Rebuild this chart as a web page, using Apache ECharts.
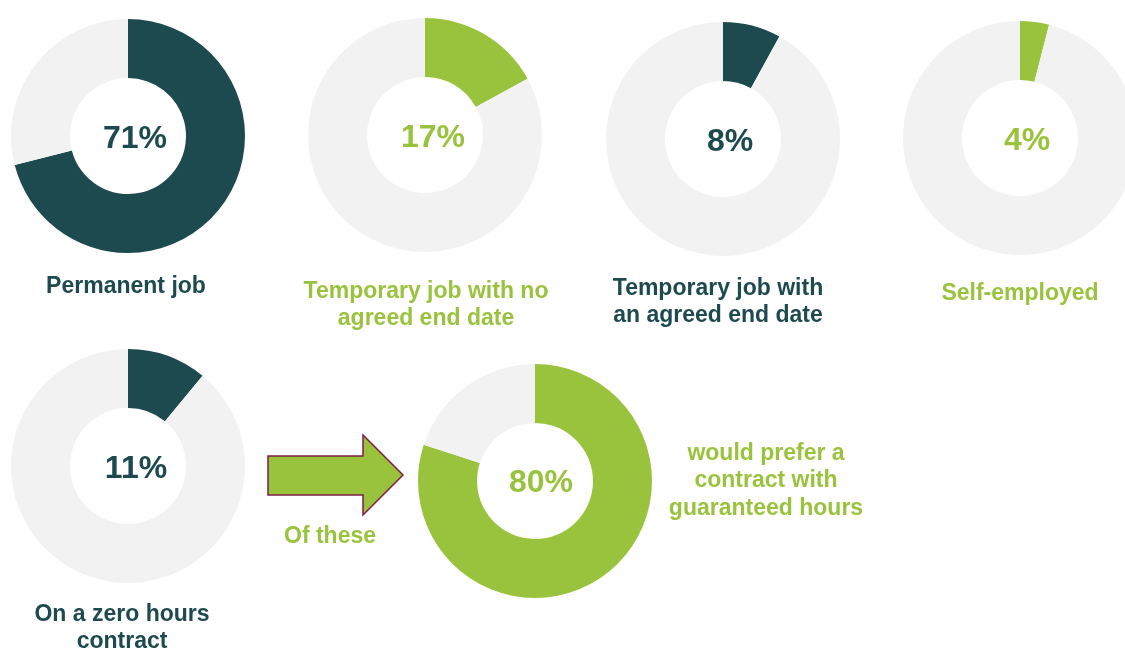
<!DOCTYPE html>
<html>
<head>
<meta charset="utf-8">
<script src="https://cdn.jsdelivr.net/npm/echarts@6/dist/echarts.min.js"></script>
<style>
html,body{margin:0;padding:0;background:#fff;}
#chart{width:1125px;height:650px;}
</style>
</head>
<body>
<div id="chart"></div>
<script>
// Data
const categories = [
  "Permanent job",
  "Temporary job with no\nagreed end date",
  "Temporary job with\nan agreed end date",
  "Self-employed",
  "On a zero hours\ncontract",
  "would prefer a\ncontract with\nguaranteed hours"
];
const percentValues = [71, 17, 8, 4, 11, 80];
const arrowCaption = "Of these";

// Layout / style (not data)
const DARK = '#1D4A4F';
const GREEN = '#9AC33D';
const GREY = '#F2F2F2';
const sliceColors = [DARK, GREEN, DARK, GREEN, DARK, GREEN];
const centers = [[128,136],[425,135],[723,139],[1020,138],[128,466],[535,481]];
const valueLabelPos = [[135,139],[433,138],[730,142],[1027,141],[136,469],[541,483]];
const captionPos = [[126,287],[426,305],[718,302],[1020,294],[122,628],[766,481]];

const chart = echarts.init(document.getElementById('chart'), null, {renderer:'canvas'});

const series = percentValues.map((v, i) => ({
  type: 'pie',
  center: centers[i],
  radius: [58, 117],
  startAngle: 90,
  clockwise: true,
  silent: true,
  animation: false,
  label: {show: false},
  labelLine: {show: false},
  emphasis: {disabled: true},
  data: [
    {value: v, itemStyle: {color: sliceColors[i]}},
    {value: 100 - v, itemStyle: {color: GREY}}
  ]
}));

const titles = [];
percentValues.forEach((v, i) => {
  titles.push({
    text: v + '%',
    left: valueLabelPos[i][0],
    top: valueLabelPos[i][1],
    textAlign: 'center',
    textVerticalAlign: 'middle',
    padding: 0,
    textStyle: {
      fontFamily: 'Liberation Sans, Arial, sans-serif',
      fontWeight: 'bold',
      fontSize: 32,
      color: sliceColors[i]
    }
  });
  titles.push({
    text: categories[i],
    left: captionPos[i][0],
    top: captionPos[i][1],
    textAlign: 'center',
    textVerticalAlign: 'middle',
    padding: 0,
    textStyle: {
      fontFamily: 'Liberation Sans, Arial, sans-serif',
      fontWeight: 'bold',
      fontSize: 23,
      lineHeight: 27.5,
      color: sliceColors[i],
      align: 'center'
    }
  });
});
titles.push({
  text: arrowCaption,
  left: 330,
  top: 537,
  textAlign: 'center',
  textVerticalAlign: 'middle',
  padding: 0,
  textStyle: {
    fontFamily: 'Liberation Sans, Arial, sans-serif',
    fontWeight: 'bold',
    fontSize: 23,
    color: GREEN
  }
});

chart.setOption({
  backgroundColor: '#ffffff',
  animation: false,
  title: titles,
  series: series,
  graphic: [{
    type: 'polygon',
    silent: true,
    shape: {
      points: [[268,456],[363,456],[363,435],[403,475],[363,515],[363,495],[268,495]]
    },
    style: {fill: GREEN, stroke: '#7D1E45', lineWidth: 1.5}
  }]
});
</script>
</body>
</html>
